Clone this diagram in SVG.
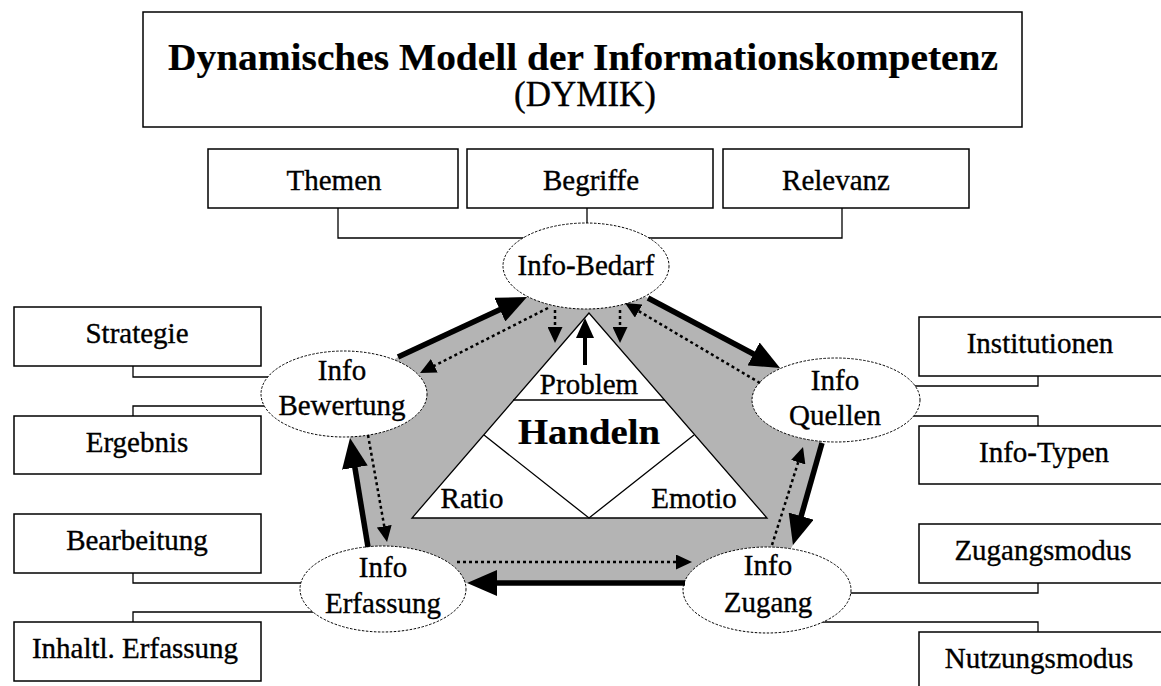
<svg xmlns="http://www.w3.org/2000/svg" width="1161" height="686" viewBox="0 0 1161 686">
  <defs>
    <style>
      .box { fill: #ffffff; stroke: #000000; stroke-width: 1.5; }
      .ell { fill: #ffffff; stroke: #000000; stroke-width: 1; stroke-dasharray: 2.5 1.5; }
      .lbl { font-family: "Liberation Serif", "Times New Roman", serif; font-size: 29px; text-anchor: middle; fill: #000000; stroke: #000000; stroke-width: 0.35; }
      .big { font-size: 38px; font-weight: bold; stroke-width: 0.2; }
      .sub { font-size: 35px; }
      .hand { font-size: 36px; font-weight: bold; stroke-width: 0.2; }
      .conn { fill: none; stroke: #000000; stroke-width: 1.3; }
      .thick { fill: none; stroke: #000000; stroke-width: 5.5; marker-end: url(#bigHead); }
      .dot { fill: none; stroke: #000000; stroke-width: 2.5; stroke-dasharray: 3 3; marker-end: url(#smallHead); }
      .solid { fill: none; stroke: #000000; stroke-width: 4; marker-end: url(#midHead); }
      .thin { fill: none; stroke: #000000; stroke-width: 1.3; }
    </style>
    <marker id="bigHead" markerUnits="userSpaceOnUse" viewBox="0 0 30 26" refX="8" refY="13" markerWidth="30" markerHeight="26" orient="auto">
      <path d="M0,0 L30,13 L0,26 z" fill="#000000"/>
    </marker>
    <marker id="smallHead" markerUnits="userSpaceOnUse" viewBox="0 0 16 15" refX="2" refY="7.5" markerWidth="16" markerHeight="15" orient="auto">
      <path d="M0,0 L16,7.5 L0,15 z" fill="#000000"/>
    </marker>
    <marker id="midHead" markerUnits="userSpaceOnUse" viewBox="0 0 20 18" refX="4" refY="9" markerWidth="20" markerHeight="18" orient="auto">
      <path d="M0,0 L20,9 L0,18 z" fill="#000000"/>
    </marker>
  </defs>

  <rect x="0" y="0" width="1161" height="686" fill="#ffffff"/>

  <!-- title -->
  <g id="title">
    <rect class="box" x="143" y="12" width="879" height="115"/>
    <text class="lbl big" x="583" y="70" textLength="830" lengthAdjust="spacingAndGlyphs">Dynamisches Modell der Informationskompetenz</text>
    <text class="lbl sub" x="585" y="106" textLength="142" lengthAdjust="spacingAndGlyphs">(DYMIK)</text>
  </g>

  <!-- gray band -->
  <g id="band">
    <path d="M586,266 L648,298 L780,368 L836,400 L822,443 L793,545 L767,590 L685,583 L468,583 L383,589 L368,547 L350,438 L344,394 L398,357 L527,297 Z" fill="#b4b4b4"/>
  </g>

  <!-- central triangle -->
  <g id="handeln">
    <polygon points="589,313 412,518 767,518" fill="#ffffff" stroke="#000000" stroke-width="1.3"/>
    <line class="thin" x1="513" y1="400" x2="665" y2="400"/>
    <polyline class="thin" points="484,435 589,518 694,435"/>
    <text class="lbl" x="589" y="394">Problem</text>
    <text class="lbl hand" x="589" y="444" textLength="142" lengthAdjust="spacingAndGlyphs">Handeln</text>
    <text class="lbl" x="472" y="508">Ratio</text>
    <text class="lbl" x="694" y="508">Emotio</text>
  </g>

  <!-- tree connectors -->
  <g id="connectors">
    <path class="conn" d="M338,208 V238 H842 V208"/>
    <path class="conn" d="M587,208 V224"/>
    <path class="conn" d="M133,366 V377 H300"/>
    <path class="conn" d="M133,416 V406 H300"/>
    <path class="conn" d="M133,573 V583 H340"/>
    <path class="conn" d="M133,622 V612 H340"/>
    <path class="conn" d="M1038,376 V386 H880"/>
    <path class="conn" d="M1038,426 V416 H880"/>
    <path class="conn" d="M1038,583 V593 H800"/>
    <path class="conn" d="M1038,632 V622 H800"/>
  </g>

  <!-- boxes -->
  <g id="themen"><rect class="box" x="208" y="149" width="250" height="59"/><text class="lbl" x="334" y="190">Themen</text></g>
  <g id="begriffe"><rect class="box" x="467" y="149" width="246" height="59"/><text class="lbl" x="591" y="190">Begriffe</text></g>
  <g id="relevanz"><rect class="box" x="723" y="149" width="246" height="59"/><text class="lbl" x="836" y="190">Relevanz</text></g>

  <g id="strategie"><rect class="box" x="14" y="307" width="247" height="59"/><text class="lbl" x="137" y="343">Strategie</text></g>
  <g id="ergebnis"><rect class="box" x="14" y="416" width="247" height="58"/><text class="lbl" x="137" y="452">Ergebnis</text></g>
  <g id="bearbeitung"><rect class="box" x="14" y="514" width="247" height="59"/><text class="lbl" x="137" y="550">Bearbeitung</text></g>
  <g id="inhaltl"><rect class="box" x="14" y="622" width="247" height="59"/><text class="lbl" x="135" y="658">Inhaltl. Erfassung</text></g>

  <g id="institutionen"><rect class="box" x="919" y="317" width="250" height="59"/><text class="lbl" x="1040" y="353">Institutionen</text></g>
  <g id="infotypen"><rect class="box" x="919" y="426" width="250" height="58"/><text class="lbl" x="1044" y="462">Info-Typen</text></g>
  <g id="zugangsmodus"><rect class="box" x="919" y="524" width="250" height="59"/><text class="lbl" x="1043" y="560">Zugangsmodus</text></g>
  <g id="nutzungsmodus"><rect class="box" x="919" y="632" width="250" height="70"/><text class="lbl" x="1039" y="668">Nutzungsmodus</text></g>

  <!-- ellipse nodes -->
  <g id="info-bedarf"><ellipse class="ell" cx="586" cy="266" rx="83" ry="43"/><text class="lbl" x="586" y="275">Info-Bedarf</text></g>
  <g id="info-bewertung"><ellipse class="ell" cx="344" cy="394" rx="83" ry="43"/><text class="lbl" x="342" y="380">Info</text><text class="lbl" x="342" y="415">Bewertung</text></g>
  <g id="info-quellen"><ellipse class="ell" cx="836" cy="400" rx="84" ry="42"/><text class="lbl" x="835" y="390">Info</text><text class="lbl" x="835" y="425">Quellen</text></g>
  <g id="info-zugang"><ellipse class="ell" cx="767" cy="590" rx="84" ry="43"/><text class="lbl" x="768" y="575">Info</text><text class="lbl" x="768" y="612">Zugang</text></g>
  <g id="info-erfassung"><ellipse class="ell" cx="383" cy="589" rx="83" ry="43"/><text class="lbl" x="383" y="577">Info</text><text class="lbl" x="383" y="613">Erfassung</text></g>

  <!-- flow arrows -->
  <g id="flow-connectors">
    <line class="thick" x1="398" y1="357" x2="507.1" y2="306.3"/>
    <line class="thick" x1="648" y1="298" x2="760.6" y2="357.7"/>
    <line class="thick" x1="822" y1="443" x2="799.0" y2="523.8"/>
    <line class="thick" x1="685" y1="583" x2="489" y2="583"/>
    <line class="thick" x1="368" y1="547" x2="353.6" y2="459.7"/>

    <line class="dot" x1="548" y1="308" x2="432.5" y2="366.7"/>
    <line class="dot" x1="555" y1="310" x2="555" y2="329"/>
    <line class="dot" x1="620" y1="310" x2="620" y2="329"/>
    <line class="dot" x1="760" y1="383" x2="637.0" y2="310.1"/>
    <line class="dot" x1="772" y1="545" x2="798.8" y2="460.3"/>
    <line class="dot" x1="457" y1="562" x2="678" y2="562"/>
    <line class="dot" x1="368" y1="435" x2="384.6" y2="528.2"/>

    <line class="solid" x1="585" y1="365" x2="585" y2="334"/>
  </g>
</svg>
